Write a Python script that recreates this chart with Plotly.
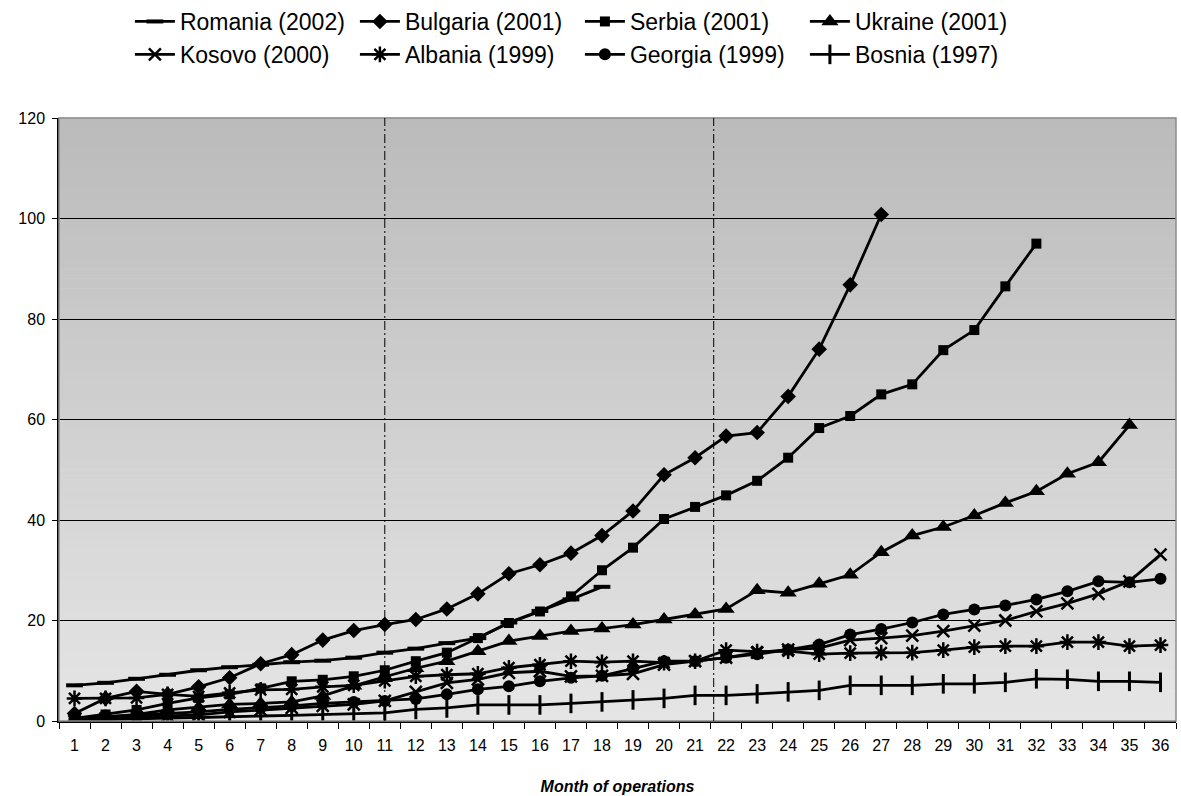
import plotly.graph_objects as go

months = list(range(1, 37))

romania = [7.1, 7.6, 8.4, 9.2, 10.1, 10.7, 11.2, 11.7, 12.0, 12.6, 13.6, 14.4, 15.5, 16.5, 19.6, 21.9, 24.2, 26.7]
bulgaria = [1.5, 4.5, 5.9, 5.3, 6.8, 8.6, 11.4, 13.2, 16.1, 18.0, 19.2, 20.2, 22.3, 25.3, 29.3, 31.1, 33.4, 36.9,
            41.8, 49.0, 52.4, 56.7, 57.4, 64.6, 74.0, 86.8, 100.8]
serbia = [0.5, 1.3, 2.2, 3.5, 4.6, 5.3, 6.5, 7.9, 8.2, 8.9, 10.1, 11.9, 13.6, 16.5, 19.5, 21.8, 24.8, 30.0,
          34.5, 40.2, 42.6, 44.9, 47.8, 52.4, 58.3, 60.7, 65.0, 67.0, 73.8, 77.8, 86.5, 95.0]
ukraine = [0.3, 0.8, 1.3, 2.2, 2.7, 3.3, 3.5, 3.8, 5.0, 7.0, 8.8, 10.5, 11.9, 13.9, 15.9, 16.9, 17.9, 18.4,
           19.2, 20.2, 21.2, 22.3, 26.0, 25.5, 27.3, 29.1, 33.6, 36.9, 38.6, 40.9, 43.4, 45.7, 49.2, 51.5, 58.9]
kosovo = [0.0, 0.5, 0.8, 1.0, 1.2, 1.8, 2.2, 2.6, 3.0, 3.3, 4.0, 5.8, 7.6, 8.3, 9.6, 9.9, 8.9, 9.0,
          9.4, 11.2, 11.9, 12.6, 13.6, 14.2, 14.5, 16.1, 16.5, 17.0, 17.9, 19.0, 20.0, 21.8, 23.4, 25.3, 27.8, 33.1]
albania = [4.5, 4.5, 4.6, 5.3, 4.9, 5.6, 6.2, 6.3, 6.8, 7.1, 8.0, 8.9, 9.2, 9.4, 10.6, 11.2, 11.9, 11.7,
           11.9, 11.6, 11.9, 14.1, 13.8, 13.9, 13.3, 13.5, 13.6, 13.6, 14.1, 14.7, 14.9, 14.9, 15.7, 15.7, 14.9, 15.1]
georgia = [0.5, 0.8, 1.2, 1.5, 1.8, 2.3, 2.6, 3.0, 3.5, 3.8, 4.0, 4.4, 5.3, 6.3, 6.9, 7.9, 8.6, 9.0,
           10.4, 11.9, 11.9, 12.6, 13.3, 14.2, 15.2, 17.2, 18.3, 19.6, 21.2, 22.2, 23.0, 24.2, 25.8, 27.8, 27.6, 28.3]
bosnia = [0.1, 0.3, 0.5, 0.6, 0.7, 0.9, 1.0, 1.1, 1.3, 1.4, 1.6, 2.3, 2.6, 3.2, 3.2, 3.2, 3.5, 3.8,
          4.2, 4.5, 5.1, 5.1, 5.4, 5.8, 6.1, 7.1, 7.1, 7.1, 7.4, 7.4, 7.7, 8.4, 8.3, 7.9, 7.9, 7.7]

series = [
    ("Romania (2002)", romania, "line-ew", 12, 4),
    ("Bulgaria (2001)", bulgaria, "diamond", 12, 0),
    ("Serbia (2001)", serbia, "square", 10, 0),
    ("Ukraine (2001)", ukraine, "triangle-up", 15, 0),
    ("Kosovo (2000)", kosovo, "x-thin", 12, 2.5),
    ("Albania (1999)", albania, "asterisk", 13, 2.5),
    ("Georgia (1999)", georgia, "circle", 12, 0),
    ("Bosnia (1997)", bosnia, "line-ns", 14, 3),
]

phase_marks = [11, 21.6]
y_ticks = [0, 20, 40, 60, 80, 100, 120]

fig = go.Figure()
for name, vals, sym, size, lw in series:
    fig.add_trace(go.Scatter(
        x=months[:len(vals)], y=vals, name=name, mode="lines+markers",
        line=dict(color="black", width=2.8),
        marker=dict(symbol=sym, size=size, color="black",
                    line=dict(color="black", width=lw)),
    ))

# gradient background (plot area)
n = 60
top = (0xbb, 0xbb, 0xbb)
bot = (0xe5, 0xe5, 0xe5)
for i in range(n):
    t = i / (n - 1)
    c = tuple(int(round(bot[k] + (top[k] - bot[k]) * t)) for k in range(3))
    fig.add_shape(type="rect", xref="paper", yref="paper", x0=0, x1=1,
                  y0=i / n, y1=(i + 1) / n + 0.001, layer="below",
                  line=dict(width=0), fillcolor="rgb(%d,%d,%d)" % c)

# plot border (gray)
fig.add_shape(type="rect", xref="paper", yref="paper", x0=0, x1=1, y0=0, y1=1,
              layer="above", line=dict(color="#8c8c8c", width=1.5), fillcolor="rgba(0,0,0,0)")

for xm in phase_marks:
    fig.add_vline(x=xm, line=dict(color="black", width=1, dash="9px,3px,2px,3px"))

fig.update_layout(
    width=1181, height=796,
    margin=dict(l=59, r=5, t=118, b=75),
    paper_bgcolor="white", plot_bgcolor="rgba(0,0,0,0)",
    font=dict(family="Liberation Sans, Arial, sans-serif", color="black", size=16),
    showlegend=True,
    legend=dict(orientation="h", xref="container", yref="container",
                x=0.11, y=1.0, xanchor="left", yanchor="top",
                font=dict(size=23), entrywidthmode="pixels", entrywidth=170,
                bgcolor="rgba(0,0,0,0)", tracegroupgap=0, itemwidth=40),
    xaxis=dict(range=[0.5, 36.5], tickmode="array", tickvals=months,
               ticktext=[str(m) for m in months], ticks="", showgrid=False,
               zeroline=False, showline=True, linecolor="black", linewidth=1.5,
               tickfont=dict(size=16), automargin=False, ticklabelstandoff=9,
               minor=dict(tickmode="linear", tick0=0.5, dtick=1, ticks="outside",
                          ticklen=6, tickcolor="black", tickwidth=1, showgrid=False),
               title=dict(text="<b><i>Month of operations</i></b>", font=dict(size=16), standoff=28)),
    yaxis=dict(range=[0, 120], tickmode="array", tickvals=y_ticks, ticks="outside",
               ticklen=5, tickcolor="black", showgrid=True, gridcolor="black", gridwidth=1,
               zeroline=False, showline=True, linecolor="black", linewidth=1.5,
               tickfont=dict(size=16), automargin=False, ticklabelstandoff=4),
)

fig.write_html("out.html", config={"displayModeBar": False},
               post_script="document.body.style.margin='0px';")
